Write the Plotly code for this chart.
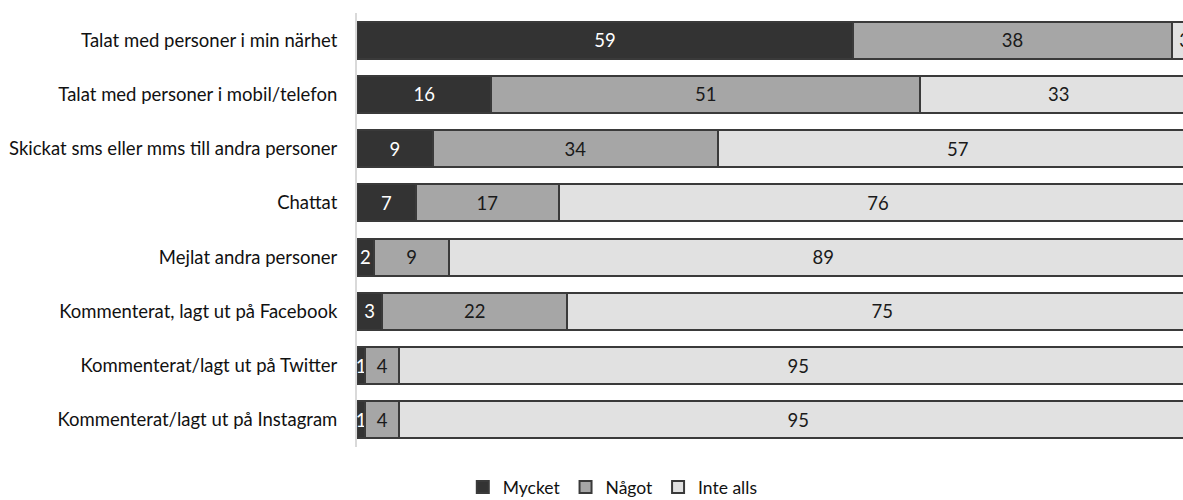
import plotly.graph_objects as go

categories = [
    "Talat med personer i min närhet",
    "Talat med personer i mobil/telefon",
    "Skickat sms eller mms till andra personer",
    "Chattat",
    "Mejlat andra personer",
    "Kommenterat, lagt ut på Facebook",
    "Kommenterat/lagt ut på Twitter",
    "Kommenterat/lagt ut på Instagram",
]
mycket = [59, 16, 9, 7, 2, 3, 1, 1]
nagot = [38, 51, 34, 17, 9, 22, 4, 4]
inte_alls = [3, 33, 57, 76, 89, 75, 95, 95]

series = [
    ("Mycket", mycket, "#333333", "#ffffff"),
    ("Något", nagot, "#a6a6a6", "#1a1a1a"),
    ("Inte alls", inte_alls, "#e1e1e1", "#1a1a1a"),
]

FONT = "Lato"
FS = 18.5

fig = go.Figure()
for name, vals, fill, txt in series:
    fig.add_trace(go.Bar(
        y=categories,
        x=vals,
        name=name,
        orientation="h",
        marker=dict(color=fill, line=dict(color="#3a3a3a", width=2)),
        text=[str(v) for v in vals],
        textposition="inside",
        insidetextanchor="middle",
        textfont=dict(color=txt, size=FS, family=FONT),
        hoverinfo="skip",
    ))

fig.update_layout(
    barmode="stack",
    bargap=0.32,
    width=1183,
    height=500,
    margin=dict(l=357, r=0, t=13, b=53),
    plot_bgcolor="white",
    paper_bgcolor="white",
    font=dict(family=FONT, size=FS, color="#111111"),
    uniformtext=dict(minsize=FS, mode="show"),
    legend=dict(
        orientation="h",
        traceorder="normal",
        xref="container", yref="container",
        x=0.518, y=0.026,
        xanchor="center", yanchor="middle",
        font=dict(size=17.5, family=FONT, color="#111111"),
        itemwidth=30,
    ),
)
fig.update_xaxes(
    range=[0, 98.3],
    showgrid=False,
    showticklabels=False,
    zeroline=False,
    showline=False,
)
fig.update_yaxes(
    autorange="reversed",
    showgrid=False,
    showline=True,
    linecolor="#d9d9d9",
    linewidth=2,
    ticks="",
    ticklabelstandoff=14,
    tickfont=dict(size=FS, family=FONT, color="#111111"),
)

fig.write_html("out.html")
